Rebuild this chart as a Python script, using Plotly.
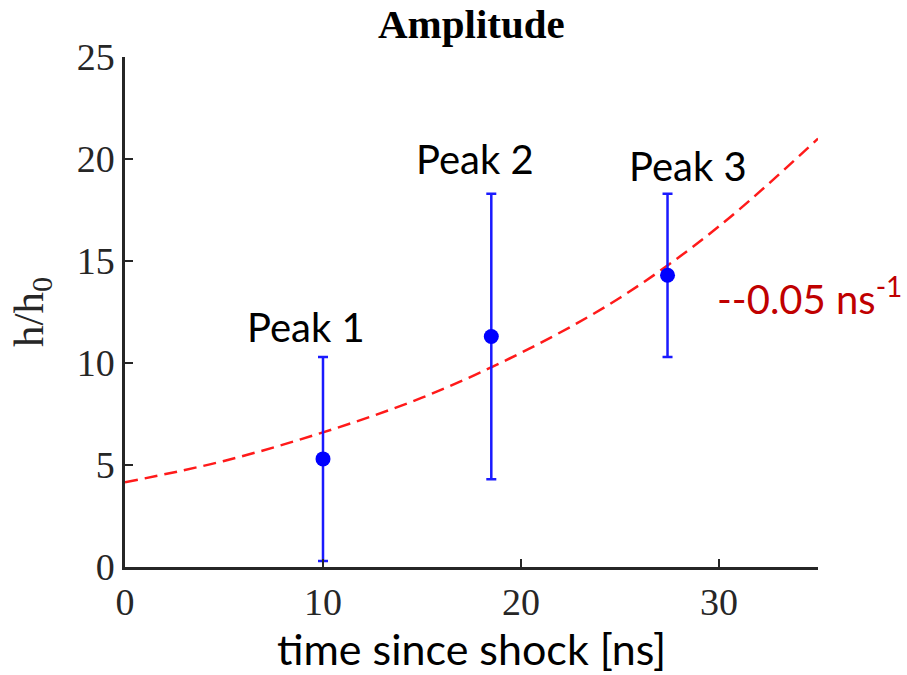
import plotly.graph_objects as go

# Measured peaks
peak_names = ["Peak 1", "Peak 2", "Peak 3"]
peak_time = [10.0, 18.5, 27.4]
peak_amp = [5.3, 11.3, 14.3]
peak_err = [5.0, 7.0, 4.0]

# Exponential fit curve
fit_time = [0, 5, 10, 15, 20, 25, 30, 35]
fit_amp = [4.15, 5.2, 6.6, 8.3, 10.5, 13.2, 16.7, 21.0]
fit_label = "--0.05 ns<sup>-1</sup>"
fit_label_pos = (29.8, 13.3)

x_ticks = [0, 10, 20, 30]
y_ticks = [0, 5, 10, 15, 20, 25]

AX = "#262626"
SERIF = "Liberation Serif, Times New Roman, serif"
SANS = "Lato, Carlito, Open Sans, sans-serif"

fig = go.Figure()
fig.add_trace(go.Scatter(
    x=fit_time, y=fit_amp, mode="lines",
    line=dict(color="#ff1a1a", width=2.5, dash="13px,7px", shape="spline"),
    hoverinfo="skip", showlegend=False,
))
fig.add_trace(go.Scatter(
    x=peak_time, y=peak_amp, mode="markers",
    marker=dict(color="#0000ff", size=15),
    error_y=dict(type="data", array=peak_err, visible=True,
                 color="#1a1aff", thickness=2.5, width=5),
    showlegend=False,
))

# Peak labels (pixel nudges to match the hand-placed text)
label_shift = [(-17, 4), (-16, 9), (20, 2)]
for name, t, a, e, (dx, dy) in zip(peak_names, peak_time, peak_amp, peak_err, label_shift):
    fig.add_annotation(x=t, y=a + e, text=name, showarrow=False,
                       xanchor="center", yanchor="bottom", xshift=dx, yshift=dy,
                       font=dict(family=SANS, size=40, color="#000000"))

fig.add_annotation(x=fit_label_pos[0], y=fit_label_pos[1],
                   text=fit_label, showarrow=False,
                   xanchor="left", yanchor="middle",
                   font=dict(family=SANS, size=40, color="#c00000"))

# Title and axis titles
fig.add_annotation(x=0.5, y=1.0, xref="paper", yref="paper", yshift=8,
                   text="<b>Amplitude</b>", showarrow=False,
                   xanchor="center", yanchor="bottom",
                   font=dict(family=SERIF, size=41, color="#000000"))
fig.add_annotation(x=0.5, y=0, xref="paper", yref="paper", yshift=-54,
                   text="time since shock [ns]", showarrow=False,
                   xanchor="center", yanchor="top",
                   font=dict(family=SANS, size=43, color="#000000"))
fig.add_annotation(x=0, y=0.5, xref="paper", yref="paper", xshift=-64,
                   text="h/h<sub>0</sub>", showarrow=False, textangle=-90,
                   xanchor="right", yanchor="middle",
                   font=dict(family=SERIF, size=43, color=AX))

fig.update_xaxes(range=[0, 35], tickvals=x_ticks, ticktext=[str(v) for v in x_ticks],
                 showline=True, linecolor=AX, linewidth=2.5, mirror=False,
                 ticks="inside", ticklen=8, tickwidth=2, tickcolor=AX,
                 showgrid=False, zeroline=False,
                 tickfont=dict(family=SERIF, size=38, color=AX))
fig.update_yaxes(range=[0, 25], tickvals=y_ticks, ticktext=[str(v) for v in y_ticks],
                 showline=True, linecolor=AX, linewidth=2.5, mirror=False,
                 ticks="inside", ticklen=8, tickwidth=2, tickcolor=AX,
                 showgrid=False, zeroline=False,
                 tickfont=dict(family=SERIF, size=38, color=AX))

fig.update_layout(
    width=907, height=675,
    margin=dict(l=125, r=89, t=57, b=108),
    paper_bgcolor="white", plot_bgcolor="white",
)
fig.write_html("out.html")
